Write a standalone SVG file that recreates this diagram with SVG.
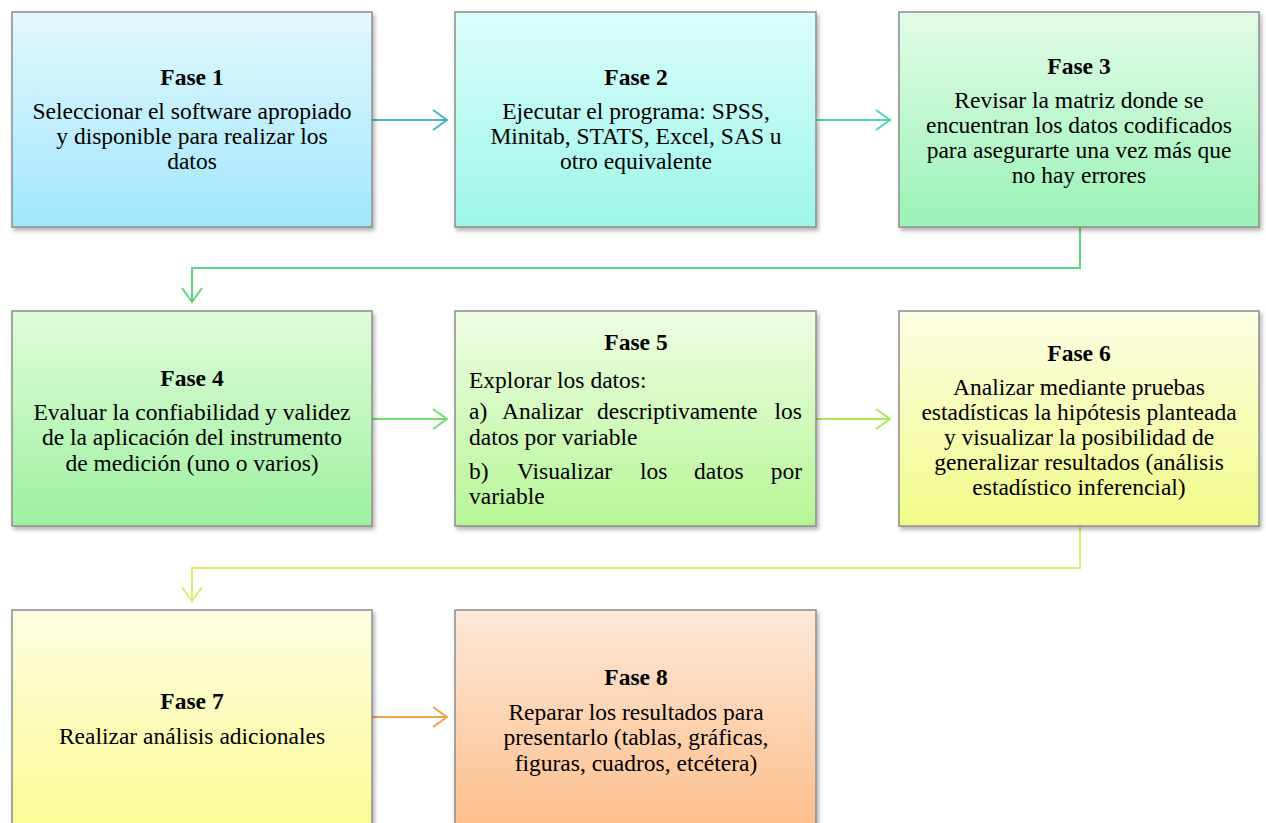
<svg xmlns="http://www.w3.org/2000/svg" width="1266" height="823" viewBox="0 0 1266 823">
<defs>
<linearGradient id="g1" x1="0" y1="0" x2="0" y2="1"><stop offset="0" stop-color="#e2f8fd"/><stop offset="1" stop-color="#a1e6fc"/></linearGradient>
<linearGradient id="g2" x1="0" y1="0" x2="0" y2="1"><stop offset="0" stop-color="#dcfdfb"/><stop offset="1" stop-color="#9cf6e8"/></linearGradient>
<linearGradient id="g3" x1="0" y1="0" x2="0" y2="1"><stop offset="0" stop-color="#e3fbe7"/><stop offset="1" stop-color="#99f3b6"/></linearGradient>
<linearGradient id="g4" x1="0" y1="0" x2="0" y2="1"><stop offset="0" stop-color="#dffcd9"/><stop offset="1" stop-color="#9ef0a0"/></linearGradient>
<linearGradient id="g5" x1="0" y1="0" x2="0" y2="1"><stop offset="0" stop-color="#eefde3"/><stop offset="1" stop-color="#b6f596"/></linearGradient>
<linearGradient id="g6" x1="0" y1="0" x2="0" y2="1"><stop offset="0" stop-color="#fcfde4"/><stop offset="1" stop-color="#f2fb88"/></linearGradient>
<linearGradient id="g7" x1="0" y1="0" x2="0" y2="1"><stop offset="0" stop-color="#fdfde2"/><stop offset="1" stop-color="#fafa90"/></linearGradient>
<linearGradient id="g8" x1="0" y1="0" x2="0" y2="1"><stop offset="0" stop-color="#fde8d8"/><stop offset="1" stop-color="#fdbc88"/></linearGradient>
<filter id="sh" x="-5%" y="-5%" width="115%" height="115%">
<feDropShadow dx="2" dy="3" stdDeviation="2" flood-color="#000" flood-opacity="0.3"/>
</filter>
</defs>
<style>
.box{stroke:#8c8c8c;stroke-width:1.5;filter:url(#sh)}
text{font-family:"Liberation Serif","Times New Roman",serif;font-size:23.5px;fill:#000}
.c{text-anchor:middle}
.e{text-anchor:end}
.t{font-weight:bold}
.con{fill:none;stroke-width:2}
</style>
<g id="connectors">
<g stroke="#4ab3cf" class="con"><path d="M372 120H447"/><path d="M433 110L447 120L433 130"/></g>
<g stroke="#4fd3bb" class="con"><path d="M816 120H890"/><path d="M876 110L890 120L876 130"/></g>
<g stroke="#5ad87c" class="con"><path d="M1080 227V268H192V302"/><path d="M182 288L192 302L202 288"/></g>
<g stroke="#6ee06a" class="con"><path d="M372 419H447"/><path d="M433 409L447 419L433 429"/></g>
<g stroke="#abe85c" class="con"><path d="M816 419H890"/><path d="M876 409L890 419L876 429"/></g>
<g stroke="#e6e672" class="con"><path d="M1080 526V568H192V601"/><path d="M182 587L192 601L202 587"/></g>
<g stroke="#f2a04e" class="con"><path d="M372 717H447"/><path d="M433 707L447 717L433 727"/></g>
</g>
<g id="fase1">
<rect class="box" x="12" y="12" width="360" height="215" fill="url(#g1)"/>
<text class="c t" x="192" y="85">Fase 1</text>
<text class="c" x="192" y="119">Seleccionar el software apropiado</text>
<text class="c" x="192" y="144">y disponible para realizar los</text>
<text class="c" x="192" y="169">datos</text>
</g>
<g id="fase2">
<rect class="box" x="455" y="12" width="361" height="215" fill="url(#g2)"/>
<text class="c t" x="636" y="85">Fase 2</text>
<text class="c" x="636" y="119">Ejecutar el programa: SPSS,</text>
<text class="c" x="636" y="144">Minitab, STATS, Excel, SAS u</text>
<text class="c" x="636" y="169">otro equivalente</text>
</g>
<g id="fase3">
<rect class="box" x="899" y="12" width="360" height="215" fill="url(#g3)"/>
<text class="c t" x="1079" y="74">Fase 3</text>
<text class="c" x="1079" y="108">Revisar la matriz donde se</text>
<text class="c" x="1079" y="133">encuentran los datos codificados</text>
<text class="c" x="1079" y="158">para asegurarte una vez más que</text>
<text class="c" x="1079" y="183">no hay errores</text>
</g>
<g id="fase4">
<rect class="box" x="12" y="311" width="360" height="215" fill="url(#g4)"/>
<text class="c t" x="192" y="386">Fase 4</text>
<text class="c" x="192" y="420">Evaluar la confiabilidad y validez</text>
<text class="c" x="192" y="445">de la aplicación del instrumento</text>
<text class="c" x="192" y="471">de medición (uno o varios)</text>
</g>
<g id="fase5">
<rect class="box" x="455" y="311" width="361" height="215" fill="url(#g5)"/>
<text class="c t" x="636" y="350">Fase 5</text>
<text x="469" y="388">Explorar los datos:</text>
<text x="469" y="419">a)</text><text x="502" y="419">Analizar</text><text x="597" y="419">descriptivamente</text><text class="e" x="802" y="419">los</text>
<text x="469" y="445">datos por variable</text>
<text x="469" y="479">b)</text><text x="517" y="479">Visualizar</text><text x="640" y="479">los</text><text x="694" y="479">datos</text><text class="e" x="802" y="479">por</text>
<text x="469" y="504">variable</text>
</g>
<g id="fase6">
<rect class="box" x="899" y="311" width="360" height="215" fill="url(#g6)"/>
<text class="c t" x="1079" y="361">Fase 6</text>
<text class="c" x="1079" y="395">Analizar mediante pruebas</text>
<text class="c" x="1079" y="420">estadísticas la hipótesis planteada</text>
<text class="c" x="1079" y="445">y visualizar la posibilidad de</text>
<text class="c" x="1079" y="470">generalizar resultados (análisis</text>
<text class="c" x="1079" y="495">estadístico inferencial)</text>
</g>
<g id="fase7">
<rect class="box" x="12" y="610" width="360" height="230" fill="url(#g7)"/>
<text class="c t" x="192" y="709">Fase 7</text>
<text class="c" x="192" y="744">Realizar análisis adicionales</text>
</g>
<g id="fase8">
<rect class="box" x="455" y="610" width="361" height="230" fill="url(#g8)"/>
<text class="c t" x="636" y="685">Fase 8</text>
<text class="c" x="636" y="720">Reparar los resultados para</text>
<text class="c" x="636" y="745">presentarlo (tablas, gráficas,</text>
<text class="c" x="636" y="771">figuras, cuadros, etcétera)</text>
</g>
</svg>
